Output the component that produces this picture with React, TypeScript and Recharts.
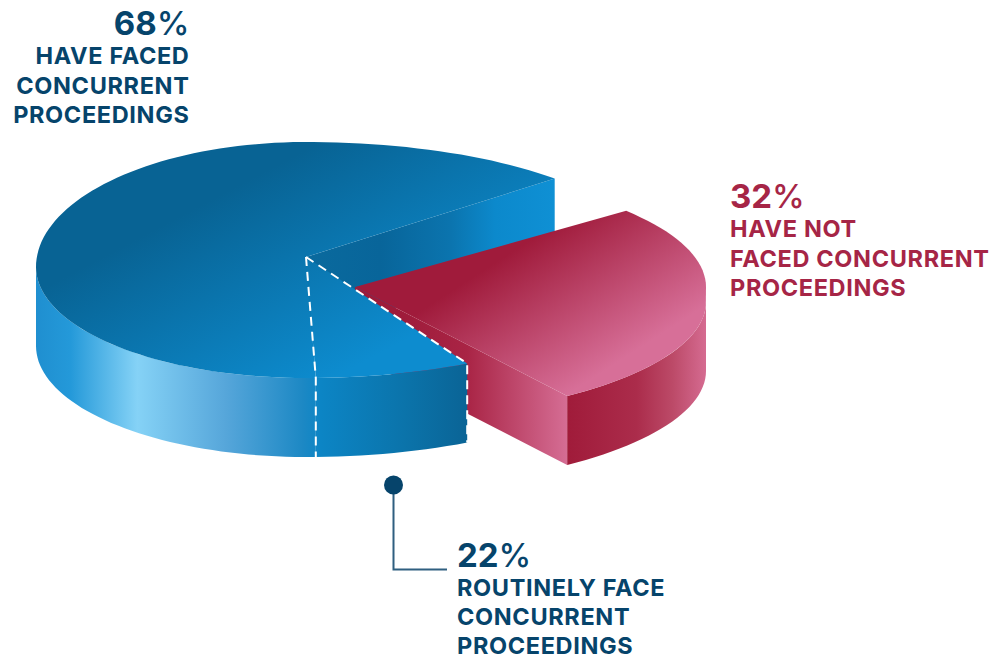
import { PieChart, Pie } from "recharts";

// printed figures
const facedLabel = ["68%", "HAVE FACED", "CONCURRENT", "PROCEEDINGS"];
const notFacedLabel = ["32%", "HAVE NOT", "FACED CONCURRENT", "PROCEEDINGS"];
const routineLabel = ["22%", "ROUTINELY FACE", "CONCURRENT", "PROCEEDINGS"];

// share of the circle each wedge is actually drawn with (the artwork is not to scale)
const blueNames = ["faced", "routine"];
const blueShares = [63.5, 7.4];
const redNames = ["notFaced"];
const redShares = [25.8];

const blueData = blueNames.map((name, i) => ({ name, value: blueShares[i] }));
const redData = redNames.map((name, i) => ({ name, value: redShares[i] }));

const NAVY = "#06446b";
const RED = "#a62546";
const FONT = "Inter, sans-serif";
const DEPTH = 79;

const BLUE_SHAPE = { rxR: 3.4, rxL: 2.7, ryTR: 1.15, ryTL: 1.25, ryBR: 1.21, ryBL: 1.11, dropR: 0, dropL: 10 };
const RED_SHAPE = { rxR: 3.51, rxL: 3.51, ryTR: 1.2, ryTL: 1.2, ryBR: 1.18, ryBL: 1.18, dropR: 15, dropL: 0 };

function rimPoint(t: number, p: any, g: any) {
  const a = (t * Math.PI) / 180;
  const c = Math.cos(a);
  const s = Math.sin(a);
  const right = c >= 0;
  const up = s >= 0;
  const r = p.outerRadius;
  const x = p.cx + c * r * (right ? g.rxR : g.rxL);
  const ry = up ? (right ? g.ryTR : g.ryTL) : right ? g.ryBR : g.ryBL;
  const drop = right ? (up ? 0 : g.dropR) : g.dropL;
  return { x, y: p.cy + drop - s * r * ry };
}

function rim(from: number, to: number, p: any, g: any) {
  const pts = [];
  const n = Math.max(2, Math.ceil(Math.abs(to - from) / 2));
  for (let i = 0; i <= n; i++) pts.push(rimPoint(from + ((to - from) * i) / n, p, g));
  return pts;
}

const toPath = (pts: { x: number; y: number }[]) =>
  pts.map((q, i) => `${i ? "L" : "M"}${q.x.toFixed(1)} ${q.y.toFixed(1)}`).join(" ") + " Z";

const lowered = (pts: { x: number; y: number }[], h = DEPTH) => pts.map((q) => ({ x: q.x, y: q.y + h }));

function BlueWedge(p: any) {
  const apex = { x: p.cx, y: p.cy };
  const start = Math.min(p.startAngle, p.endAngle);
  const end = Math.max(p.startAngle, p.endAngle);
  const top = rim(start, end, p, BLUE_SHAPE);
  const front = rim(Math.max(start, 180), end, p, BLUE_SHAPE);
  const side = [...front, ...lowered(front).reverse()];
  if (p.name === "faced") {
    const corner = top[0];
    const wall = [apex, corner, { x: corner.x, y: corner.y + DEPTH }, { x: apex.x, y: apex.y + DEPTH }];
    return (
      <g>
        <path d={toPath(wall)} fill="url(#blueWall)" />
        <path d={toPath(side)} fill="url(#blueSide)" />
        <path d={toPath([apex, ...top])} fill="url(#blueTop)" />
      </g>
    );
  }
  const a = top[0];
  const b = top[top.length - 1];
  const dash = (q: { x: number; y: number }) =>
    `M${apex.x} ${apex.y} L${q.x.toFixed(1)} ${q.y.toFixed(1)} L${q.x.toFixed(1)} ${(q.y + DEPTH).toFixed(1)}`;
  return (
    <g>
      <path d={toPath(side)} fill="url(#blueSide)" />
      <path d={toPath([apex, ...top])} fill="url(#blueTop)" />
      <path d={dash(a)} fill="none" stroke="#fff" strokeWidth={2} strokeDasharray="9 6" />
      <path d={dash(b)} fill="none" stroke="#fff" strokeWidth={2} strokeDasharray="9 6" />
    </g>
  );
}

function RedWedge(p: any) {
  const apex = { x: p.cx, y: p.cy };
  const start = Math.min(p.startAngle, p.endAngle);
  const end = Math.max(p.startAngle, p.endAngle);
  const h = 69;
  const top = rim(start, end, p, RED_SHAPE);
  const front = rim(start, -0.01, p, RED_SHAPE);
  const side = [...front, ...lowered(front, h).reverse()];
  const corner = top[0];
  const face = [apex, corner, { x: corner.x, y: corner.y + h }, { x: apex.x, y: apex.y + h }];
  return (
    <g>
      <path d={toPath(face)} fill="url(#redFace)" />
      <path d={toPath(side)} fill="url(#redSide)" />
      <path d={toPath([apex, ...top])} fill="url(#redTop)" />
    </g>
  );
}

function Label({ x, y, lines, color, anchor }: any) {
  return (
    <text x={x} y={y} fill={color} fontFamily={FONT} textAnchor={anchor}>
      <tspan x={x} fontSize={33} fontWeight={700}>
        {lines[0].replace("%", "")}
      </tspan>
      <tspan fontSize={33} fontWeight={500}>%</tspan>
      {lines.slice(1).map((line: string, i: number) => (
        <tspan key={line} x={x} y={y + 29.3 * (i + 1)} fontSize={23.5} fontWeight={700} letterSpacing={0.65}>
          {line}
        </tspan>
      ))}
    </text>
  );
}

export default function App() {
  return (
    <div style={{ position: "absolute", left: 0, top: 0, width: 992, height: 657, background: "#fff" }}>
      <PieChart width={992} height={657} margin={{ top: 0, right: 0, bottom: 0, left: 0 }}>
        <defs>
          <linearGradient id="blueTop" gradientUnits="userSpaceOnUse" x1={230} y1={190} x2={330} y2={380}>
            <stop offset="0" stopColor="#086394" />
            <stop offset="1" stopColor="#0d8ccf" />
          </linearGradient>
          <linearGradient id="blueSide" gradientUnits="userSpaceOnUse" x1={36} y1={0} x2={467} y2={0}>
            <stop offset="0" stopColor="#1f8fd0" />
            <stop offset="0.08" stopColor="#2499d9" />
            <stop offset="0.235" stopColor="#85d2f6" />
            <stop offset="0.44" stopColor="#56a6da" />
            <stop offset="0.62" stopColor="#1c88c4" />
            <stop offset="0.66" stopColor="#0c85c5" />
            <stop offset="0.85" stopColor="#0b74ab" />
            <stop offset="1" stopColor="#0a6496" />
          </linearGradient>
          <linearGradient id="blueWall" gradientUnits="userSpaceOnUse" x1={306} y1={0} x2={555} y2={0}>
            <stop offset="0" stopColor="#0a6a9e" />
            <stop offset="0.3" stopColor="#08659a" />
            <stop offset="0.58" stopColor="#0b74ae" />
            <stop offset="0.76" stopColor="#0c89cc" />
            <stop offset="1" stopColor="#0f90d4" />
          </linearGradient>
          <linearGradient id="redTop" gradientUnits="userSpaceOnUse" x1={500} y1={240} x2={590} y2={380}>
            <stop offset="0.1" stopColor="#a01b3b" />
            <stop offset="1" stopColor="#d76f98" />
          </linearGradient>
          <linearGradient id="redSide" gradientUnits="userSpaceOnUse" x1={567} y1={0} x2={706} y2={0}>
            <stop offset="0" stopColor="#a01b3a" />
            <stop offset="0.5" stopColor="#ab2c4b" />
            <stop offset="0.76" stopColor="#bc4a68" />
            <stop offset="1" stopColor="#d56b91" />
          </linearGradient>
          <linearGradient id="redFace" gradientUnits="userSpaceOnUse" x1={400} y1={0} x2={567} y2={0}>
            <stop offset="0" stopColor="#9e1b3a" />
            <stop offset="0.4" stopColor="#a92445" />
            <stop offset="1" stopColor="#d56d94" />
          </linearGradient>
        </defs>

        <Pie
          data={blueData}
          dataKey="value"
          nameKey="name"
          cx={306}
          cy={257}
          outerRadius={100}
          startAngle={43}
          endAngle={298.3}
          stroke="none"
          isAnimationActive={false}
          shape={(p: any) => (p.name === "faced" ? <BlueWedge {...p} /> : <g />)}
        />
        <Pie
          data={redData}
          dataKey="value"
          nameKey="name"
          cx={355}
          cy={287}
          outerRadius={100}
          startAngle={-52.8}
          endAngle={39.4}
          stroke="none"
          isAnimationActive={false}
          shape={(p: any) => <RedWedge {...p} />}
        />
        <Pie
          data={blueData}
          dataKey="value"
          nameKey="name"
          cx={306}
          cy={257}
          outerRadius={100}
          startAngle={43}
          endAngle={298.3}
          stroke="none"
          isAnimationActive={false}
          shape={(p: any) => (p.name === "routine" ? <BlueWedge {...p} /> : <g />)}
        />

        <Label x={189.5} y={35} lines={facedLabel} color={NAVY} anchor="end" />
        <Label x={730} y={208} lines={notFacedLabel} color={RED} anchor="start" />
        <Label x={457} y={566.5} lines={routineLabel} color={NAVY} anchor="start" />

        <path d="M393.5 485 V569.5 H447" fill="none" stroke="#2f5f80" strokeWidth={2} />
        <circle cx={393.5} cy={485} r={9.5} fill={NAVY} />
      </PieChart>
    </div>
  );
}
